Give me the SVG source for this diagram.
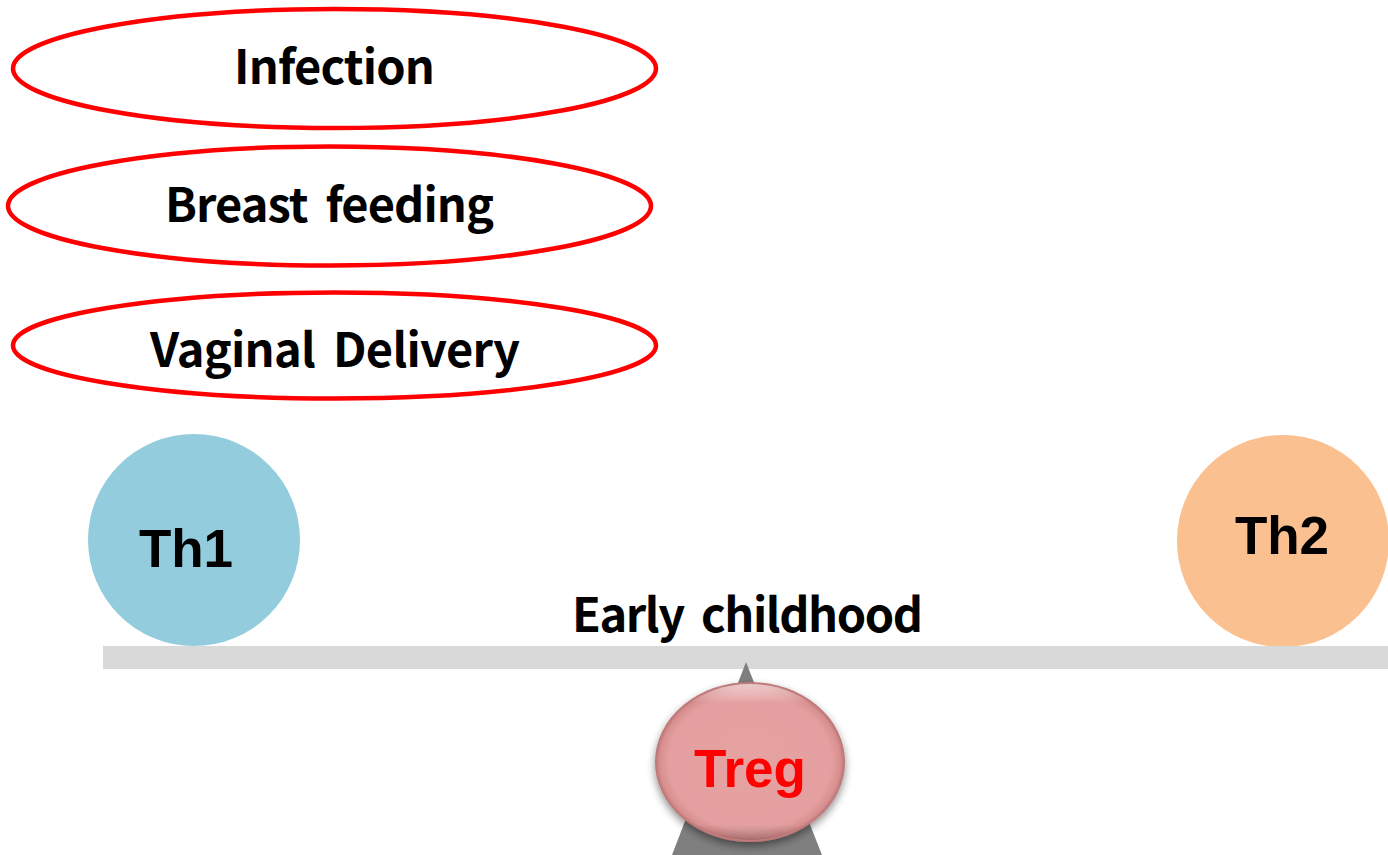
<svg xmlns="http://www.w3.org/2000/svg" width="1388" height="855" viewBox="0 0 1388 855">
<defs>
<style>
.oval{fill:#fff;stroke:#FF0000;stroke-width:4.5}
.lbl{font-family:"Noto Sans CJK KR","Liberation Sans",sans-serif;font-weight:bold;font-size:47px;fill:#000;text-anchor:middle}
.cell{font-family:"Liberation Sans",Arial,sans-serif;font-weight:bold;font-size:53px;text-anchor:middle}
</style>
<radialGradient id="tregFill" cx="50%" cy="50%" r="50%">
<stop offset="0" stop-color="#E6A1A1"/>
<stop offset="0.85" stop-color="#E4A0A0"/>
<stop offset="0.95" stop-color="#D88F8F"/>
<stop offset="1" stop-color="#B87272"/>
</radialGradient>
<linearGradient id="tregHi" x1="0" y1="0" x2="0" y2="1">
<stop offset="0" stop-color="#FFFFFF" stop-opacity="0.55"/>
<stop offset="0.12" stop-color="#FFFFFF" stop-opacity="0"/>
<stop offset="0.9" stop-color="#000000" stop-opacity="0"/>
<stop offset="1" stop-color="#000000" stop-opacity="0.2"/>
</linearGradient>
<filter id="shadow" x="-20%" y="-20%" width="140%" height="150%">
<feGaussianBlur in="SourceAlpha" stdDeviation="4"/>
<feOffset dx="0" dy="4" result="b"/>
<feComponentTransfer><feFuncA type="linear" slope="0.45"/></feComponentTransfer>
<feMerge><feMergeNode/><feMergeNode in="SourceGraphic"/></feMerge>
</filter>
</defs>
<rect width="1388" height="855" fill="#fff"/>

<g id="infection">
<ellipse class="oval" cx="334.5" cy="68.5" rx="321.5" ry="59.5"/>
<text class="lbl" x="334.5" y="84" textLength="201" lengthAdjust="spacing">Infection</text>
</g>
<g id="breast-feeding">
<ellipse class="oval" cx="329.5" cy="206" rx="321.5" ry="59.5"/>
<text class="lbl" x="329.5" y="222" textLength="329" lengthAdjust="spacing" word-spacing="8">Breast feeding</text>
</g>
<g id="vaginal-delivery">
<ellipse class="oval" cx="334.5" cy="345.5" rx="321.5" ry="53"/>
<text class="lbl" x="335" y="367" textLength="370" lengthAdjust="spacing" word-spacing="8">Vaginal Delivery</text>
</g>

<g id="th1">
<circle cx="194" cy="540" r="106" fill="#93CDDD"/>
<text class="cell" x="186" y="567" fill="#000">Th1</text>
</g>
<g id="th2">
<circle cx="1283" cy="541" r="106" fill="#FAC090"/>
<text class="cell" x="1282" y="554" fill="#000">Th2</text>
</g>

<g id="seesaw">
<rect x="103" y="646" width="1285" height="23" fill="#D9D9D9"/>
<polygon points="746,662 672,855 822,855" fill="#7F7F7F"/>
<text class="lbl" x="747.5" y="632" textLength="351" lengthAdjust="spacing" word-spacing="8">Early childhood</text>
</g>

<g id="treg">
<g filter="url(#shadow)">
<ellipse cx="750" cy="762" rx="95" ry="80" fill="url(#tregFill)"/>
</g>
<ellipse cx="750" cy="762" rx="93" ry="78" fill="url(#tregHi)"/>
<text class="cell" x="750" y="787" fill="#FF0000" font-size="50">Treg</text>
</g>
<g id="connectors"/>
</svg>
